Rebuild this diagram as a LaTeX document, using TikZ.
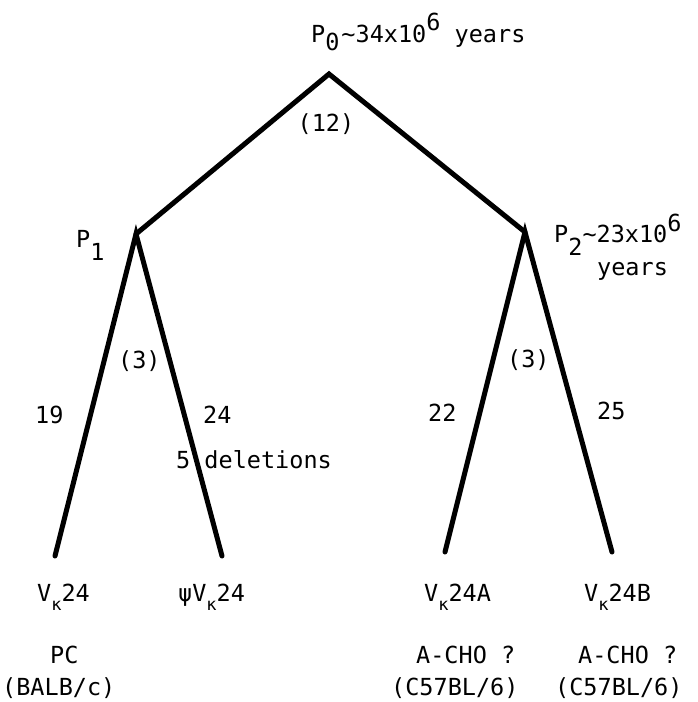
\documentclass[tikz,border=0pt]{standalone}
\usepackage{fontspec}
\setmainfont{DejaVu Sans Mono}
\newcommand\dn[2]{\raisebox{-#1pt}{#2}}
\newcommand\kap{\raisebox{-9pt}{\fontsize{17}{20}\selectfont κ}}
\begin{document}
\begin{tikzpicture}[x=1pt,y=-1pt,
  branch/.style={line width=5pt,line cap=round,line join=miter},
  lbl/.style={font=\fontsize{23.5}{26}\selectfont,inner sep=0pt,anchor=base west}]
\useasboundingbox (0,0) rectangle (697,702);
\coordinate (p0) at (329,74);
\coordinate (p1) at (136,234);
\coordinate (p2) at (525,232);
\coordinate (l1) at (55,556);
\coordinate (l2) at (222,556);
\coordinate (l3) at (445,552);
\coordinate (l4) at (612,552);
\draw[branch] (p1) -- (p0) -- (p2);
\draw[branch] (l1) -- (p1) -- (l2);
\draw[branch] (l3) -- (p2) -- (l4);
\node[lbl] (t0) at (311,42) {P\dn{8}{0}\hspace{2pt}\textasciitilde34x10\raisebox{12pt}{6} years};
\node[lbl,anchor=base] (n12) at (326,131) {(12)};
\node[lbl] (t1) at (76,247) {P\dn{13}{1}};
\node[lbl] (t2) at (554,242) {P\dn{13}{2}\textasciitilde23x10\raisebox{11pt}{6}};
\node[lbl] (t2b) at (597,275) {years};
\node[lbl] (a3) at (118,368) {(3)};
\node[lbl] (b3) at (507,367) {(3)};
\node[lbl] (n19) at (35,423) {19};
\node[lbl] (n24) at (203,423) {24};
\node[lbl] (n22) at (428,421) {22};
\node[lbl] (n25) at (597,419) {25};
\node[lbl] (del) at (176,468) {5 deletions};
\node[lbl] (v1) at (37,601) {V\kap 24};
\node[lbl] (v2) at (178,601) {ψV\kap 24};
\node[lbl] (v3) at (424,601) {V\kap 24A};
\node[lbl] (v4) at (584,601) {V\kap 24B};
\node[lbl] (pc) at (50,663) {PC};
\node[lbl] (balb) at (2,695) {(BALB/c)};
\node[lbl] (ach1) at (416,663) {A-CHO ?};
\node[lbl] (c1) at (391,695) {(C57BL/6)};
\node[lbl] (ach2) at (578,663) {A-CHO ?};
\node[lbl] (c2) at (555,695) {(C57BL/6)};
\end{tikzpicture}
\end{document}
